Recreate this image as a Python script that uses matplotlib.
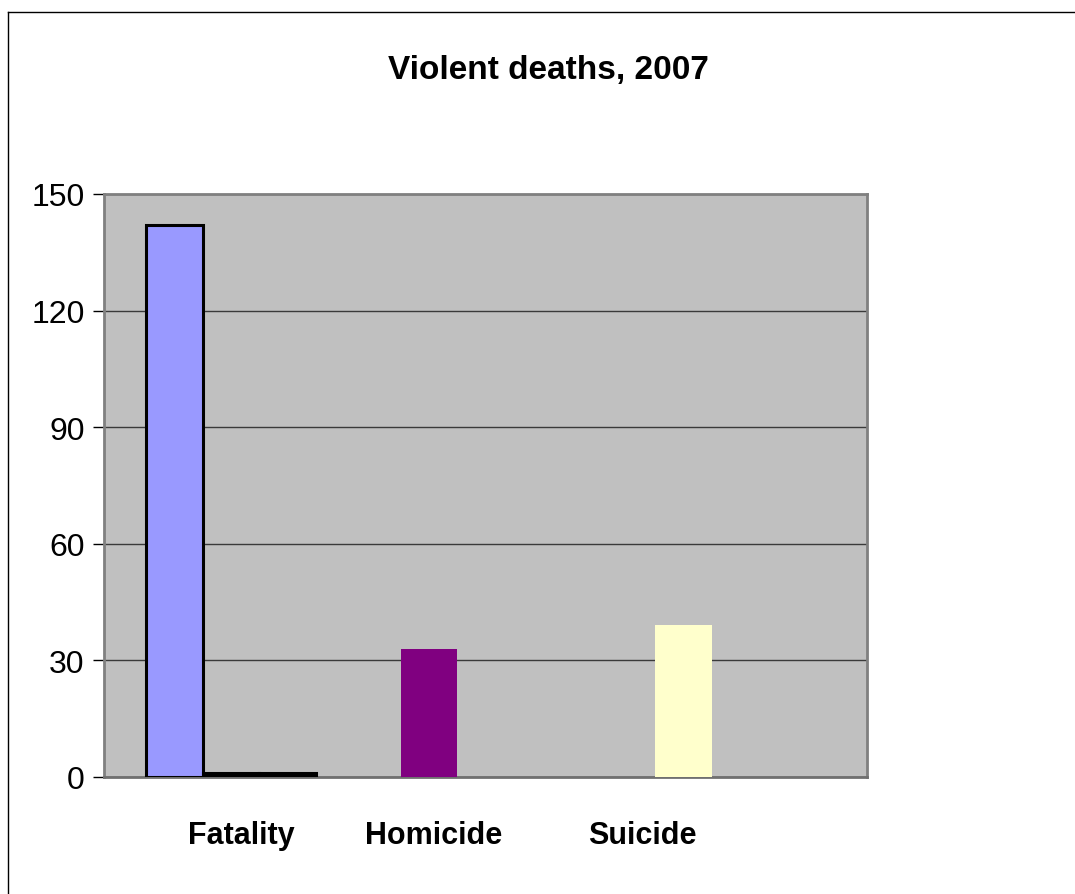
import matplotlib
matplotlib.use("Agg")
import matplotlib.pyplot as plt
from matplotlib.lines import Line2D
import numpy as np

plt.rcParams['font.family'] = ['Liberation Sans Narrow', 'Liberation Sans', 'DejaVu Sans']

categories = ['Fatality', 'Homicide', 'Suicide']
series1 = [142, 33, 39]
series2 = [1, 0, 0]
series3 = [1, 0, 0]
series1_colors = ['#9999FF', '#800080', '#FFFFCC']
yticks = [0, 30, 60, 90, 120, 150]
title = 'Violent deaths, 2007'

W, H = 1075, 895
fig = plt.figure(figsize=(W / 100, H / 100), dpi=100)
fig.patch.set_facecolor('white')

# outer chart frame
fig.add_artist(Line2D([8 / W, 8 / W], [0, 1 - 13 / H], color='black', lw=1, transform=fig.transFigure))
fig.add_artist(Line2D([8 / W, 1], [1 - 13 / H, 1 - 13 / H], color='black', lw=1, transform=fig.transFigure))

left, right, top, bottom = 104, 867, 195, 778
ax = fig.add_axes([left / W, 1 - bottom / H, (right - left) / W, (bottom - top) / H])
ax.set_facecolor('#C0C0C0')

x = np.arange(len(categories))
bw = 1 / 4.5
s1_edges = [2.2, 0, 0]
ax.bar(x - bw, series1, width=bw, color=series1_colors, edgecolor='black', linewidth=s1_edges, zorder=3)
s2_edges = [2.2 if v > 0 else 0 for v in series2]
s3_edges = [2.2 if v > 0 else 0 for v in series3]
ax.bar(x, series2, width=bw, color='black', edgecolor='black', linewidth=s2_edges, zorder=3)
ax.bar(x + bw, series3, width=bw, color='black', edgecolor='black', linewidth=s3_edges, zorder=3)

ax.set_xlim(-0.5, len(categories) - 0.5)
ax.set_ylim(0, 150)
ax.set_yticks(yticks)
ax.set_yticklabels([str(t) for t in yticks], fontsize=23)
ax.yaxis.grid(True, color='#3a3a3a', lw=1, zorder=1)
ax.set_axisbelow(True)

label_pos = [0.039, 0.796, 1.616]
ax.set_xticks(label_pos)
ax.set_xticklabels(categories, fontsize=22, fontweight='bold')
ax.tick_params(axis='x', length=0, pad=31)
ax.tick_params(axis='y', length=8, width=1, color='black', direction='out', pad=6)

for s in ax.spines.values():
    s.set_color('#808080')
    s.set_linewidth(2)
ax.spines['bottom'].set_color('#707070')

fig.text(548 / W, 1 - 70 / H, title, ha='center', va='center', fontsize=24, fontweight='bold')

fig.savefig('out.png', dpi=100)
